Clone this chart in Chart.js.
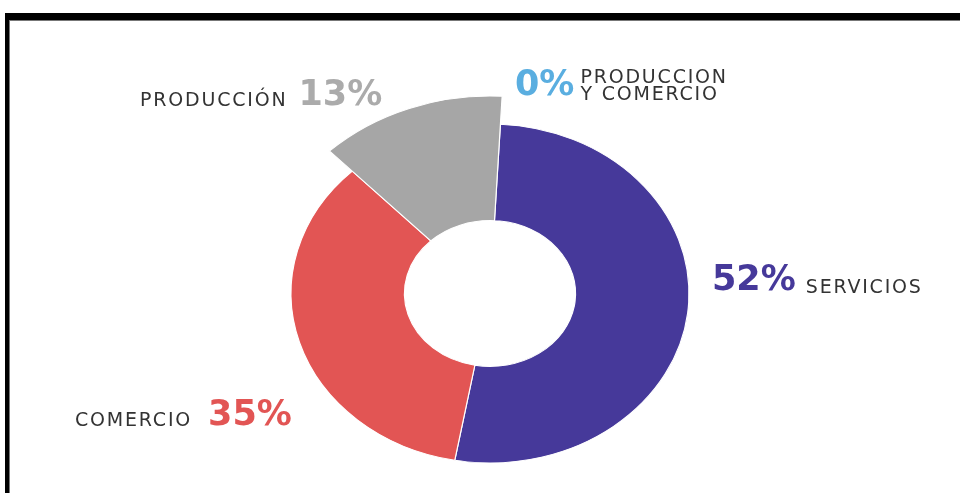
<!DOCTYPE html>
<html>
<head>
<meta charset="utf-8">
<script src="https://cdn.jsdelivr.net/npm/chart.js@4"></script>
<style>
  html, body { margin: 0; padding: 0; background: #fff; overflow: hidden; }
  #frame {
    position: absolute; left: 5px; top: 13px; width: 1000px; height: 600px;
    border-top: 7px solid #000; border-left: 4px solid #000;
    box-shadow: inset 1px 1px 0 #777;
  }
  #chart { position: absolute; left: 0; top: 0; }
</style>
</head>
<body>
<div id="frame"></div>
<canvas id="chart" width="960" height="493"></canvas>
<script>
// data
const sectores = ["SERVICIOS", "COMERCIO", "PRODUCCIÓN", "PRODUCCION\nY COMERCIO"];
const porcentajes = [52, 35, 13, 0];
const colores = ["#46399a", "#e25554", "#a6a6a6", "#5aaee0"];

// where each label sits (pct first or name first) and gap between pct and name
const labelPos = [
  { x: 712, y: 290, nameFirst: false, gap: 10 },
  { x: 75, y: 425, nameFirst: true, gap: 16 },
  { x: 140, y: 105, nameFirst: true, gap: 11 },
  { x: 515, y: 95, nameFirst: false, gap: 6 }
];

const stretchX = 1.174;   // the reference doughnut is a bit wider than tall
const grayGrow = 198 / 170;

const ellipsePlugin = {
  id: "ellipse",
  afterDatasetsUpdate(chart) {
    // the PRODUCCIÓN slice sticks out further than the rest
    const arc = chart.getDatasetMeta(0).data[2];
    arc.outerRadius = arc.outerRadius * grayGrow;
  },
  beforeDatasetsDraw(chart) {
    const arc = chart.getDatasetMeta(0).data[0];
    const ctx = chart.ctx;
    ctx.save();
    ctx.translate(arc.x, 0);
    ctx.scale(stretchX, 1);
    ctx.translate(-arc.x, 0);
  },
  afterDatasetsDraw(chart) {
    chart.ctx.restore();
  }
};

const labelPlugin = {
  id: "labels",
  afterDraw(chart) {
    const ctx = chart.ctx;
    ctx.save();
    ctx.textBaseline = "alphabetic";
    const bigFont = "bold 35px 'DejaVu Sans'";
    const smallFont = "19px 'DejaVu Sans'";
    const spacing = "1.8px";
    for (let i = 0; i < sectores.length; i++) {
      const p = labelPos[i];
      const pct = porcentajes[i] + "%";
      const lines = sectores[i].split("\n");

      ctx.font = bigFont;
      ctx.letterSpacing = "0px";
      const pctW = ctx.measureText(pct).width;
      ctx.font = smallFont;
      ctx.letterSpacing = spacing;
      const nameW = ctx.measureText(lines[0]).width;

      let pctX, nameX;
      if (p.nameFirst) {
        nameX = p.x;
        pctX = p.x + nameW + p.gap;
      } else {
        pctX = p.x;
        nameX = p.x + pctW + p.gap;
      }

      ctx.font = bigFont;
      ctx.letterSpacing = "0px";
      ctx.fillStyle = colores[i];
      if (i == 2) ctx.fillStyle = "#ababab";
      ctx.fillText(pct, pctX, p.y);

      ctx.font = smallFont;
      ctx.letterSpacing = spacing;
      ctx.fillStyle = "#333";
      if (lines.length == 1) {
        ctx.fillText(lines[0], nameX, p.y + (i == 0 ? 3 : 1));
      } else {
        ctx.fillText(lines[0], nameX, p.y - 12);
        ctx.fillText(lines[1], nameX, p.y + 5);
      }
    }
    ctx.restore();
  }
};

new Chart(document.getElementById("chart"), {
  type: "doughnut",
  data: {
    labels: sectores,
    datasets: [{
      data: porcentajes,
      backgroundColor: colores,
      borderColor: "#ffffff",
      borderWidth: [1, 1, 1, 0],
      clip: false
    }]
  },
  options: {
    responsive: false,
    animation: false,
    events: [],
    rotation: 3,
    cutout: "43%",
    layout: { padding: { left: 320, right: 300, top: 123.5, bottom: 29.5 } },
    plugins: {
      legend: { display: false },
      tooltip: { enabled: false }
    }
  },
  plugins: [ellipsePlugin, labelPlugin]
});
</script>
</body>
</html>
